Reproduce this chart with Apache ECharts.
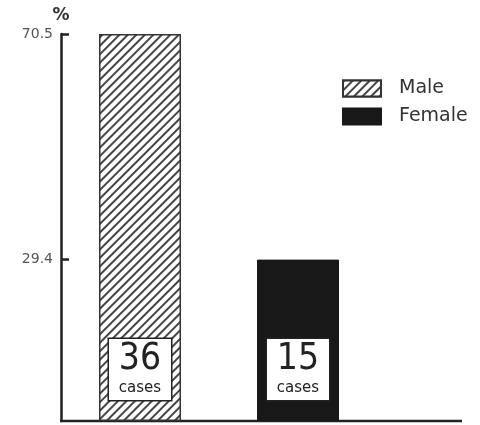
<!DOCTYPE html>
<html>
<head>
<meta charset="utf-8">
<script src="https://cdn.jsdelivr.net/npm/echarts@6/dist/echarts.min.js"></script>
<style>html,body{margin:0;padding:0;background:#fff}#c{width:480px;height:425px}</style>
</head>
<body>
<div id="c"></div>
<script>
const categories = ['Male', 'Female'];
const percentValues = [70.5, 29.4];
const caseCounts = [36, 15];
const tickValues = [29.4, 70.5];

const chart = echarts.init(document.getElementById('c'), null, {renderer: 'canvas'});
const FONT = 'DejaVu Sans';
const FONT_C = 'DejaVu Sans Condensed';
const GRID_LEFT = 61, GRID_TOP = 34, GRID_BOTTOM = 4, GRID_WIDTH = 316;

function labelFor(i) {
  return {
    show: true,
    position: 'insideBottom',
    distance: 21,
    formatter: '{n|' + caseCounts[i] + '}\n{c|cases}',
    backgroundColor: '#fff',
    borderColor: '#222',
    borderWidth: 1.5,
    padding: [1, 4, 3, 4],
    width: 54,
    align: 'center',
    rich: {
      n: {fontFamily: FONT_C, fontSize: 37, lineHeight: 39, color: '#222', align: 'center'},
      c: {fontFamily: FONT, fontSize: 15, lineHeight: 18, color: '#222', align: 'center'}
    }
  };
}

const maleData = categories.map((c, i) => i === 0 ? {value: percentValues[i], label: labelFor(i)} : '-');
const femaleData = categories.map((c, i) => i === 1 ? {value: percentValues[i], label: labelFor(i)} : '-');

chart.setOption({
  backgroundColor: '#fff',
  animation: false,
  grid: {left: GRID_LEFT, top: GRID_TOP, bottom: GRID_BOTTOM, width: GRID_WIDTH, containLabel: false},
  legend: {
    orient: 'vertical',
    left: 337, top: 74,
    icon: 'rect',
    itemWidth: 38, itemHeight: 16, itemGap: 9,
    textStyle: {fontFamily: FONT, fontSize: 19, color: '#333', padding: [0, 0, 0, 13]},
    data: ['Male', 'Female']
  },
  xAxis: {
    type: 'category',
    data: categories,
    axisLine: {show: false},
    axisTick: {show: false},
    axisLabel: {show: false}
  },
  yAxis: {
    type: 'value',
    min: 0, max: 70.5,
    name: '%',
    nameLocation: 'end',
    nameGap: 10,
    nameTextStyle: {fontFamily: FONT, fontSize: 17, fontWeight: 'bold', color: '#333', align: 'center'},
    splitLine: {show: false},
    axisLine: {show: true, lineStyle: {color: '#222', width: 2.5}},
    axisTick: {show: true, inside: true, length: 8, lineStyle: {color: '#222', width: 2.5}, customValues: tickValues},
    axisLabel: {fontFamily: FONT, fontSize: 14, color: '#555', margin: 8, customValues: tickValues, formatter: v => String(v)}
  },
  graphic: [{
    type: 'line',
    shape: {x1: GRID_LEFT - 1, y1: 425 - GRID_BOTTOM, x2: 462, y2: 425 - GRID_BOTTOM},
    style: {stroke: '#222', lineWidth: 2.5}
  }],
  series: [
    {
      name: 'Male', type: 'bar', stack: 'all', barWidth: 82,
      data: maleData,
      itemStyle: {
        color: '#fff', borderColor: '#333', borderWidth: 1.5,
        decal: {symbol: 'rect', color: '#444', backgroundColor: '#fff', dashArrayX: [1, 0], dashArrayY: [2, 4], rotation: -Math.PI / 4}
      }
    },
    {
      name: 'Female', type: 'bar', stack: 'all', barWidth: 82,
      data: femaleData,
      itemStyle: {color: '#181818', borderColor: '#181818', borderWidth: 1}
    }
  ]
});
</script>
</body>
</html>
